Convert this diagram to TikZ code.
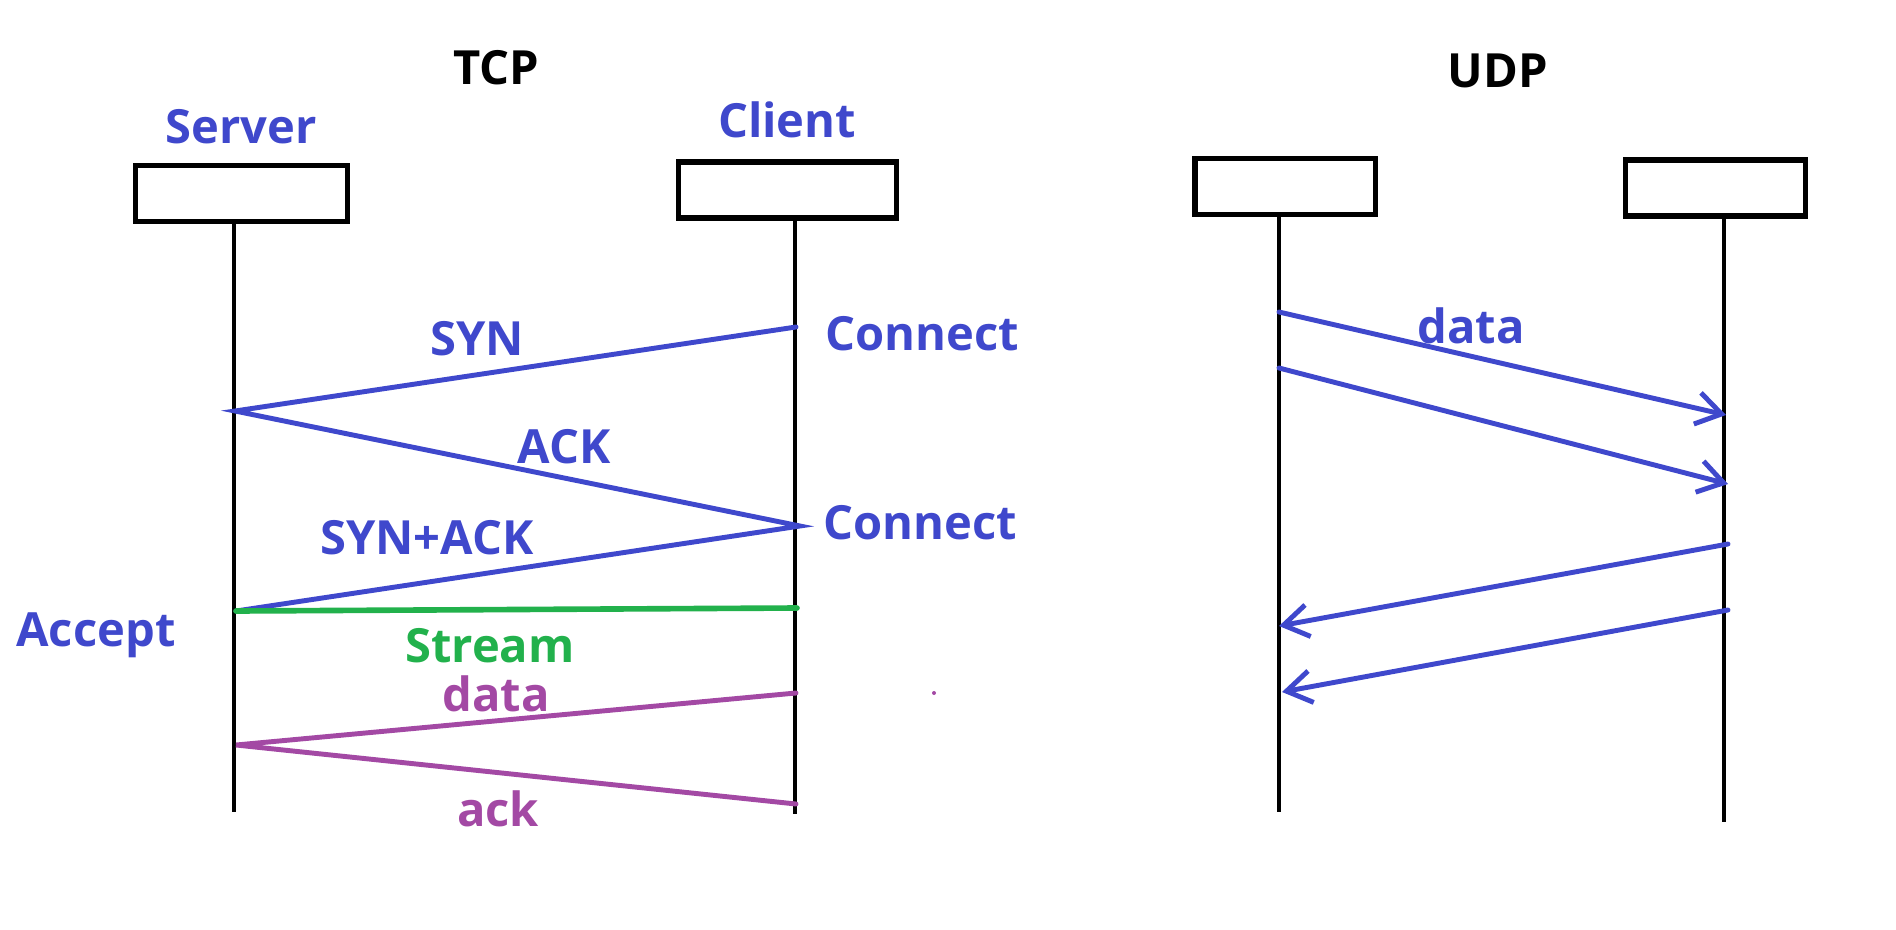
\documentclass[tikz,border=0pt]{standalone}
\usepackage{fontspec}
\setmainfont{Open Sans}
\usepackage{tikz}
\usetikzlibrary{arrows.meta}

\definecolor{indigo}{RGB}{63,72,204}
\definecolor{pgreen}{RGB}{34,177,76}
\definecolor{ppurple}{RGB}{163,73,164}

\begin{document}
\begin{tikzpicture}[x=0.025cm, y=-0.025cm, inner sep=0pt, font=\fontsize{33.5}{40}\selectfont\bfseries]
    \tikzstyle{box}=[rectangle, draw=black, line width=3.6pt, minimum height=1.4cm]
    \tikzstyle{life}=[draw=black, line width=2.3pt]
    \tikzstyle{msg}=[draw=indigo, line width=3.5pt, line cap=round]
    \tikzstyle{udp}=[msg, -{Straight Barb[length=0.62cm, width=0.8cm]}]
    \tikzstyle{lbl}=[anchor=base, text=indigo]

    \useasboundingbox (0,0) rectangle (1896,929);

    % titles
    \node[anchor=base] (TCP) at (496,84) {TCP};
    \node[anchor=base] (UDP) at (1498,87) {UDP};
    \node[lbl] (Srv) at (241,143) {Server};
    \node[lbl] (Cli) at (787,137) {Client};

    % boxes
    \node[box, minimum width=5.3cm] (S) at (241.5,193.5) {};
    \node[box, minimum width=5.45cm] (C) at (787.5,190) {};
    \node[box, minimum width=4.5cm] (U) at (1285,186.5) {};
    \node[box, minimum width=4.5cm] (V) at (1715.5,188) {};

    % lifelines
    \coordinate (S0) at (234,812);
    \coordinate (C0) at (795,814);
    \coordinate (U0) at (1279,812);
    \coordinate (V0) at (1724,822);
    \draw[life] (S0 |- S.south) -- (S0);
    \draw[life] (C0 |- C.south) -- (C0);
    \draw[life] (U0 |- U.south) -- (U0);
    \draw[life] (V0 |- V.south) -- (V0);

    % TCP handshake
    \coordinate (C1) at (796,327);
    \coordinate (S1) at (235,411);
    \coordinate (C2) at (800,526);
    \coordinate (S2) at (236,611);
    \coordinate (C3) at (797,608);
    \coordinate (C4) at (796,693);
    \coordinate (S4) at (236,745);
    \coordinate (C5) at (796,804);

    \draw[msg] (C1) -- (S1) -- (C2) -- (S2);
    \draw[msg, draw=pgreen, line width=4pt] (S2) -- (C3);
    \draw[msg, draw=ppurple] (C4) -- (S4) -- (C5);

    \node[lbl] (SYN) at (477,355) {SYN};
    \node[lbl, anchor=base west] (Con1) at (825,350) {Connect};
    \node[lbl] (ACK) at (564,463) {ACK};
    \node[lbl, anchor=base west] (Con2) at (823,539) {Connect};
    \node[lbl] (SA) at (427,554) {SYN+ACK};
    \node[lbl] (Acc) at (96,646) {Accept};
    \node[lbl, text=pgreen] (Str) at (490,662) {Stream};
    \node[lbl, text=ppurple] (Dat) at (496,711) {data};
    \node[lbl, text=ppurple] (Ack) at (498,826) {ack};
    \fill[ppurple] (934,693) circle (2);

    % UDP datagrams
    \coordinate (U1) at (1279,312);
    \coordinate (V1) at (1726,415);
    \coordinate (U2) at (1279,368);
    \coordinate (V2) at (1728,484);
    \coordinate (V3) at (1728,544);
    \coordinate (U3) at (1279,626);
    \coordinate (V4) at (1728,610);
    \coordinate (U4) at (1282,692);

    \draw[udp] (U1) -- (V1);
    \draw[udp] (U2) -- (V2);
    \draw[udp] (V3) -- (U3);
    \draw[udp] (V4) -- (U4);

    \node[lbl] (UDat) at (1471,343) {data};
\end{tikzpicture}
\end{document}
